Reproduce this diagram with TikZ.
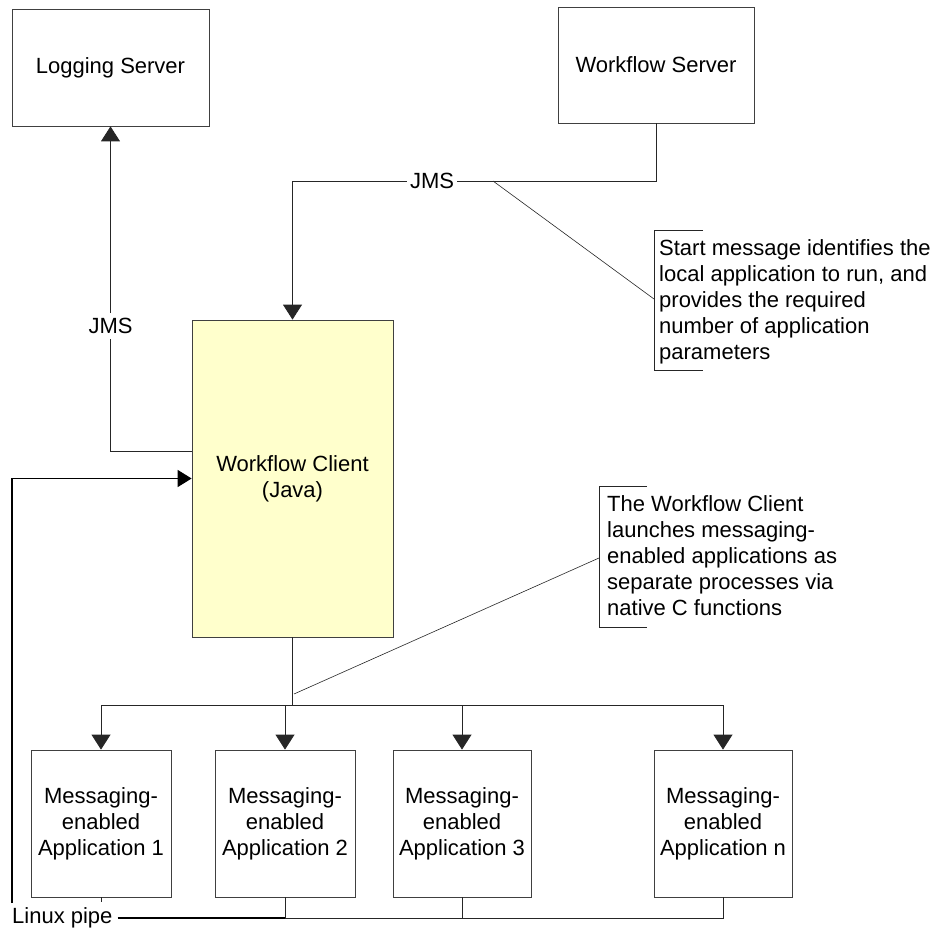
\documentclass[tikz,border=0pt]{standalone}
\usepackage{fontspec}
\setmainfont{Liberation Sans}
\usetikzlibrary{arrows.meta}
\definecolor{clientfill}{HTML}{FFFFCC}
\begin{document}
\begin{tikzpicture}[x=1pt,y=-1pt,
  every node/.style={font=\fontsize{22}{26}\selectfont},
  box/.style={draw=black!75, line width=0.8pt, inner sep=0pt, align=center},
  conn/.style={draw=black!85, line width=0.8pt},
  arr/.style={conn, -{Triangle[width=19pt,length=15pt]}},
  lbl/.style={inner sep=3pt},
  note/.style={align=left, anchor=north west, inner sep=0pt},
  bracket/.style={draw=black!85, line width=0.7pt},
  lead/.style={draw=black!85, line width=0.6pt},
  pipethick/.style={draw=black, line width=1.6pt}]
\useasboundingbox (0,0) rectangle (938,931);

% boxes
\node[box, minimum width=197pt, minimum height=117pt] (log) at (110.5,67.5) {Logging Server};
\node[box, minimum width=196pt, minimum height=116pt] (wfs) at (656,65) {Workflow Server};
\node[box, fill=clientfill, minimum width=201pt, minimum height=317pt] (wfc) at (292.5,478.5) {Workflow Client\\(Java)};
\node[box, minimum width=140pt, minimum height=147pt] (app1) at (101,823.5) {Messaging-\\enabled\\Application 1};
\node[box, minimum width=140pt, minimum height=147pt] (app2) at (285,823.5) {Messaging-\\enabled\\Application 2};
\node[box, minimum width=138pt, minimum height=147pt] (app3) at (462,823.5) {Messaging-\\enabled\\Application 3};
\node[box, minimum width=138pt, minimum height=147pt] (appn) at (723,823.5) {Messaging-\\enabled\\Application n};

% JMS from workflow server to client
\node[lbl] (jmsA) at (432,181) {JMS};
\draw[conn] (wfs.south) |- (jmsA.east);
\draw[arr] (jmsA.west) -| (wfc.north);

% JMS from client to logging server
\node[lbl, inner ysep=5pt] (jmsB) at (110.5,326) {JMS};
\draw[conn] ([yshift=27.5pt]wfc.west) -| (jmsB.south);
\draw[arr] (jmsB.north) -- (log.south);

% callout 1
\coordinate (n1t) at (703,230);
\coordinate (n1tl) at (654,230);
\coordinate (n1bl) at (654,370);
\coordinate (n1b) at (703,370);
\draw[bracket] (n1t) -- (n1tl) -- (n1bl) -- (n1b);
\node[note] (n1) at (659,239) {Start message identifies the\\local application to run, and\\provides the required\\number of application\\parameters};
\coordinate (n1p) at (654,299);
\coordinate (jmsTap) at (493,181);
\draw[lead] (jmsTap) -- (n1p);

% bus to applications
\draw[conn] (wfc.south) -- ++(0,68) coordinate (bus);
\foreach \a in {app1,app2,app3,appn} \draw[arr] (bus) -| (\a.north);

% callout 2
\coordinate (n2t) at (647,486);
\coordinate (n2tl) at (599,486);
\coordinate (n2bl) at (599,627);
\coordinate (n2b) at (647,627);
\draw[bracket] (n2t) -- (n2tl) -- (n2bl) -- (n2b);
\node[note] (n2) at (607,495) {The Workflow Client\\launches messaging-\\enabled applications as\\separate processes via\\native C functions};
\coordinate (n2p) at (599,558);
\coordinate (busTap) at (294,694);
\draw[lead] (busTap) -- (n2p);

% Linux pipe
\node[inner sep=0pt, anchor=west] (pipe) at (12,918) {Linux pipe};
\draw[conn] (app1.south) -- ++(0,5);
\draw[conn] (app2.south) -- (app2.south |- pipe.east);
\draw[conn] (app3.south) -- (app3.south |- pipe.east);
\draw[conn] (app2.south |- pipe.east) -- (appn.south |- pipe.east) -- (appn.south);
\draw[pipethick] ([xshift=5pt]pipe.east) -- (app2.south |- pipe.east);
\coordinate (pipeL) at (12,903);
\draw[pipethick, -{Triangle[width=17pt,length=14pt]}] (pipeL) |- (wfc.west);
\end{tikzpicture}
\end{document}
